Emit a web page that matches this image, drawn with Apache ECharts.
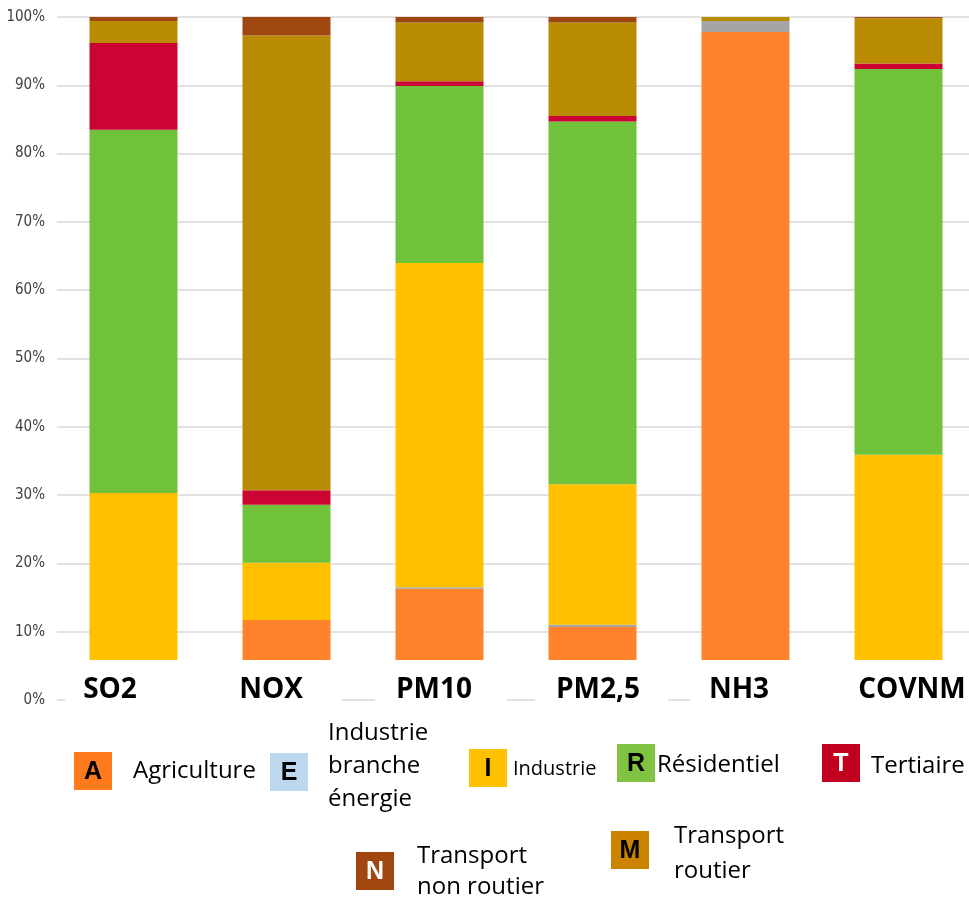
<!DOCTYPE html>
<html>
<head>
<meta charset="utf-8">
<script src="https://cdn.jsdelivr.net/npm/echarts@6/dist/echarts.min.js"></script>
<style>
html, body { margin: 0; padding: 0; background: #fff; }
#chart { width: 969px; height: 898px; }
</style>
</head>
<body>
<div id="chart"></div>
<script>
// polluants
const categories = ['SO2', 'NOX', 'PM10', 'PM2,5', 'NH3', 'COVNM'];
// parts de chaque secteur (%)
const agriculture = [0, 11.7, 16.3, 10.7, 97.8, 0];
const energie     = [0, 0, 0.2, 0.3, 1.6, 0.3];
const industrie   = [30.3, 8.4, 47.5, 20.6, 0, 35.6];
const residentiel = [53.2, 8.5, 25.9, 53.1, 0, 56.5];
const tertiaire   = [12.7, 2.1, 0.7, 0.8, 0, 0.8];
const routier     = [3.2, 66.6, 8.6, 13.7, 0.6, 6.6];
const nonRoutier  = [0.6, 2.7, 0.8, 0.8, 0, 0.2];

// légende
const legendLetters = ['A', 'E', 'I', 'R', 'T', 'N', 'M'];
const legendNames = ['Agriculture', 'Industrie\nbranche\nénergie', 'Industrie', 'Résidentiel', 'Tertiaire', 'Transport\nnon routier', 'Transport\nroutier'];

// mise en page
const gridLeft = 57, gridTop = 17, gridWidth = 918, gridHeight = 683;
// boîtes blanches des étiquettes : [gauche, droite, centre du texte]
const labelBoxes = [[65, 210, 110], [210, 342, 271], [375, 507, 434], [535, 668, 598], [690, 822, 739], [822, 975, 912]];
// légende : position du carré, position du texte, taille, interligne
const legendLayout = [
  { box: [74, 752], text: [133, 771], size: 24, lh: 30, bg: '#FF7A1C', fg: '#000' },
  { box: [270, 753], text: [328, 766], size: 24, lh: 33, bg: '#BDD7EE', fg: '#000' },
  { box: [469, 749], text: [513, 769], size: 20, lh: 26, bg: '#FFC000', fg: '#000' },
  { box: [617, 744], text: [657, 765], size: 24, lh: 30, bg: '#80C342', fg: '#000' },
  { box: [822, 744], text: [871, 766], size: 24, lh: 30, bg: '#C0001E', fg: '#fff' },
  { box: [356, 852], text: [417, 872], size: 24, lh: 31, bg: '#A0460E', fg: '#fff' },
  { box: [611, 831], text: [674, 854], size: 24, lh: 35, bg: '#CC8400', fg: '#000' }
];

const seriesDefs = [
  { name: 'Agriculture', data: agriculture, color: '#FF832A' },
  { name: 'Industrie branche énergie', data: energie, color: '#A5A5A5' },
  { name: 'Industrie', data: industrie, color: '#FFC000' },
  { name: 'Résidentiel', data: residentiel, color: '#71C23B' },
  { name: 'Tertiaire', data: tertiaire, color: '#CC0433' },
  { name: 'Transport routier', data: routier, color: '#B88B00' },
  { name: 'Transport non routier', data: nonRoutier, color: '#9E4710' }
];

const chart = echarts.init(document.getElementById('chart'));

// étiquettes des catégories posées sur un fond blanc qui masque le bas des barres
const band = gridWidth / categories.length;
const rich = {};
const shifts = [];
categories.forEach((c, i) => {
  const tick = gridLeft + band * (i + 0.5);
  const [L, R, tc] = labelBoxes[i];
  const bc = (L + R) / 2;
  const d = bc - tick;
  const e = tc - bc;
  shifts.push(d);
  rich['b' + i] = {
    width: (R - L) - Math.abs(2 * e),
    height: 30,
    padding: [15, e < 0 ? -2 * e : 0, 15, e > 0 ? 2 * e : 0],
    align: 'center',
    backgroundColor: '#fff',
    fontFamily: 'Open Sans',
    fontSize: 28,
    fontWeight: 'bold',
    color: '#000'
  };
  rich['s' + i] = { width: Math.abs(2 * d), fontSize: 10 };
});

const graphic = [];
legendLetters.forEach((letter, i) => {
  const lay = legendLayout[i];
  graphic.push({
    type: 'rect',
    shape: { x: lay.box[0], y: lay.box[1], width: 38, height: 38 },
    style: { fill: lay.bg }
  });
  graphic.push({
    type: 'text',
    style: {
      text: letter, x: lay.box[0] + 19, y: lay.box[1] + 20,
      align: 'center', verticalAlign: 'middle',
      font: 'bold 25px "Liberation Sans", Arial, sans-serif', fill: lay.fg
    }
  });
  graphic.push({
    type: 'text',
    style: {
      text: legendNames[i], x: lay.text[0], y: lay.text[1],
      align: 'left', verticalAlign: 'middle', lineHeight: lay.lh,
      font: lay.size + 'px "Open Sans", sans-serif', fill: '#000'
    }
  });
});

chart.setOption({
  animation: false,
  backgroundColor: '#fff',
  grid: {
    left: gridLeft, top: gridTop, width: gridWidth, height: gridHeight,
    containLabel: false, outerBoundsMode: 'none'
  },
  xAxis: {
    type: 'category',
    data: categories,
    z: 10,
    axisLine: { show: false },
    axisTick: { show: false },
    axisLabel: {
      interval: 0,
      margin: -40,
      formatter: (v, i) => shifts[i] > 0 ? `{s${i}| }{b${i}|${v}}` : `{b${i}|${v}}{s${i}| }`,
      rich: rich
    }
  },
  yAxis: {
    type: 'value',
    min: 0,
    max: 100,
    interval: 10,
    axisLine: { show: false },
    axisTick: { show: false },
    splitLine: { lineStyle: { color: '#D9D9D9', width: 1.5 } },
    axisLabel: {
      margin: 12,
      formatter: '{value}%',
      color: '#404040',
      fontSize: 15,
      fontFamily: "'Liberation Sans Narrow', 'DejaVu Sans Condensed', sans-serif"
    }
  },
  graphic: graphic,
  series: seriesDefs.map(s => ({
    name: s.name,
    type: 'bar',
    stack: 'total',
    barWidth: 88,
    data: s.data,
    itemStyle: { color: s.color }
  }))
});
</script>
</body>
</html>
